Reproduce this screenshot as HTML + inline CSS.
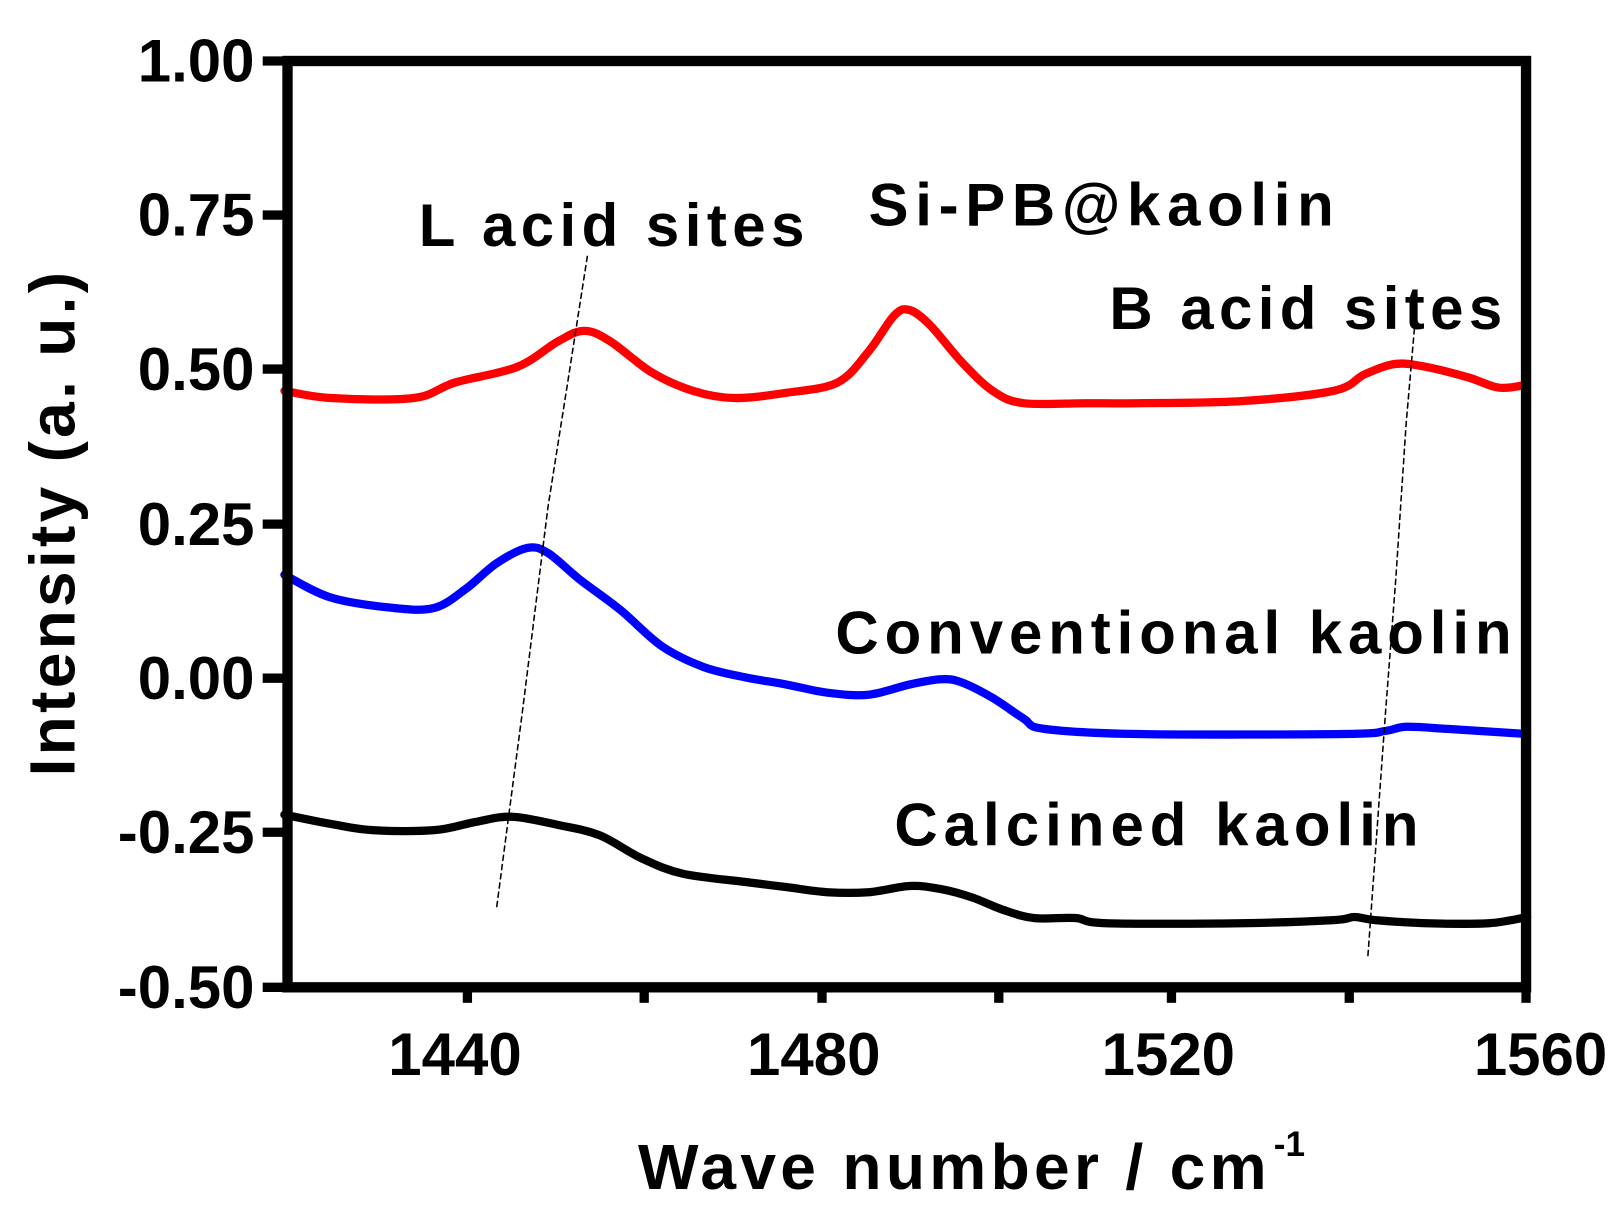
<!DOCTYPE html>
<html><head><style>html,body{margin:0;padding:0;background:#fff}svg{display:block}</style></head><body>
<svg width="1613" height="1222" viewBox="0 0 1560 1182" xmlns="http://www.w3.org/2000/svg" font-family="Liberation Sans, Arial, sans-serif" font-weight="bold">
<rect width="1560" height="1182" fill="#fff"/>
<g fill="none" stroke-linejoin="round" stroke-linecap="round">
<path id="r" stroke="#f00" stroke-width="8" data-p="275,378 320,385 400,385 440,370 500,355 540,330 565,320 590,330 630,360 670,378 710,385 760,380 810,370 840,340 865,305 880,300 900,315 930,350 960,378 990,390 1050,390 1100,390 1200,388 1290,378 1320,362 1350,352 1380,355 1420,365 1450,375 1477,372"/>
<path id="b" stroke="#00f" stroke-width="8" data-p="275,556 320,578 380,588 420,588 450,570 480,545 510,530 530,535 560,560 600,590 640,625 680,645 720,655 760,662 800,670 840,672 880,662 910,657 930,660 960,675 990,695 1010,705 1100,710 1300,710 1340,707 1360,703 1400,705 1477,710"/>
<path id="k" stroke="#000" stroke-width="8" data-p="275,788 320,797 360,803 420,803 460,795 495,790 540,798 580,808 620,830 660,845 720,853 760,858 800,863 840,863 880,857 910,860 940,868 970,880 1000,888 1040,888 1070,893 1200,893 1290,890 1310,887 1330,890 1380,893 1440,893 1477,887"/>
<path stroke="#000" stroke-width="1.5" stroke-dasharray="5,4" d="M568,248 L549,370 L530,490 L505,690 L480,880"/>
<path stroke="#000" stroke-width="1.5" stroke-dasharray="5,4" d="M1368,318 L1360,410 L1350,560 L1340,690 L1323,925"/>
</g>
<rect x="278" y="59" width="1198" height="896" fill="none" stroke="#000" stroke-width="10"/>
<g stroke="#000" stroke-width="9">
<line x1="254" y1="59" x2="278" y2="59"/><line x1="254" y1="208" x2="278" y2="208"/><line x1="254" y1="357" x2="278" y2="357"/><line x1="254" y1="507" x2="278" y2="507"/><line x1="254" y1="656" x2="278" y2="656"/><line x1="254" y1="805" x2="278" y2="805"/><line x1="254" y1="955" x2="278" y2="955"/>
<line x1="452" y1="955" x2="452" y2="970"/><line x1="623" y1="955" x2="623" y2="970"/><line x1="795" y1="955" x2="795" y2="970"/><line x1="966" y1="955" x2="966" y2="970"/><line x1="1133" y1="955" x2="1133" y2="970"/><line x1="1305" y1="955" x2="1305" y2="970"/><line x1="1476" y1="955" x2="1476" y2="970"/>
</g>
<g font-size="58" text-anchor="end">
<text x="246" y="79">1.00</text><text x="246" y="228">0.75</text><text x="246" y="377">0.50</text><text x="246" y="527">0.25</text><text x="246" y="676">0.00</text><text x="246" y="825">-0.25</text><text x="246" y="975">-0.50</text>
</g>
<g font-size="58" text-anchor="middle">
<text x="440" y="1040">1440</text><text x="787" y="1040">1480</text><text x="1130" y="1040">1520</text><text x="1490" y="1040">1560</text>
</g>
<text x="617" y="1150" font-size="62" textLength="608">Wave number / cm</text>
<text x="1232" y="1118" font-size="34">-1</text>
<text transform="translate(72,507) rotate(-90)" font-size="62" text-anchor="middle" textLength="488">Intensity (a. u.)</text>
<g font-size="58">
<text x="405" y="238" textLength="373">L acid sites</text>
<text x="840" y="218" textLength="450">Si-PB@kaolin</text>
<text x="1073" y="318" textLength="380">B acid sites</text>
<text x="808" y="632" textLength="654">Conventional kaolin</text>
<text x="865" y="818" textLength="507">Calcined kaolin</text>
</g>
</svg>
<script>
['r','b','k'].forEach(function(id){
 var el=document.getElementById(id);
 var p=el.getAttribute('data-p').split(' ').map(function(s){return s.split(',').map(Number);});
 var d='M'+p[0][0]+','+p[0][1];
 for(var i=0;i<p.length-1;i++){
  var p0=p[i>0?i-1:i],p1=p[i],p2=p[i+1],p3=p[i+2<p.length?i+2:i+1];
  var c1x=p1[0]+(p2[0]-p0[0])/6,c1y=p1[1]+(p2[1]-p0[1])/6;
  var c2x=p2[0]-(p3[0]-p1[0])/6,c2y=p2[1]-(p3[1]-p1[1])/6;
  d+=' C'+c1x+','+c1y+' '+c2x+','+c2y+' '+p2[0]+','+p2[1];
 }
 el.setAttribute('d',d);
});
</script>
</body></html>
